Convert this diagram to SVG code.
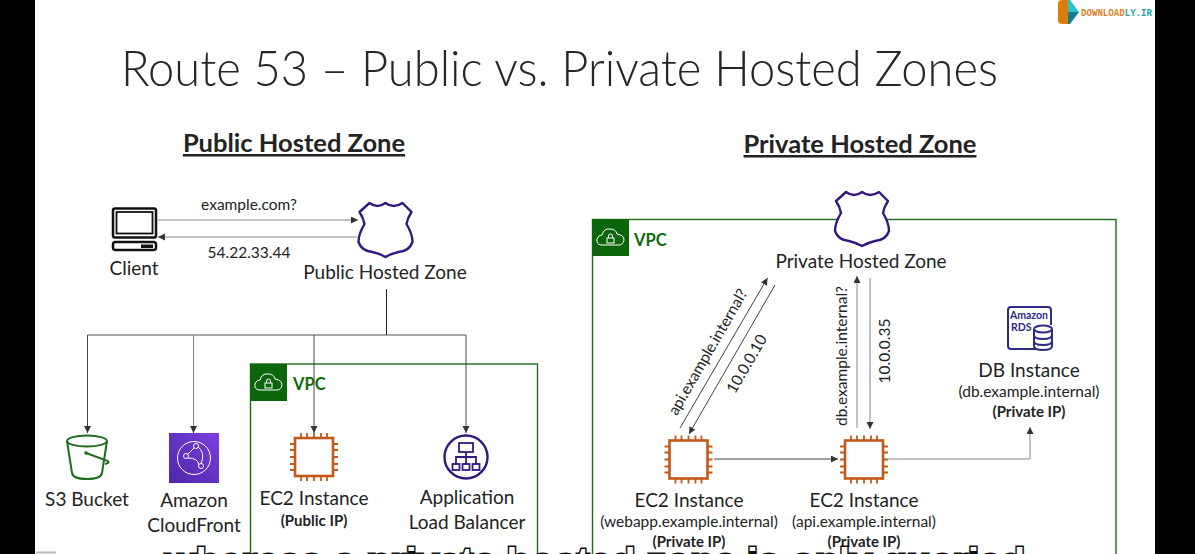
<svg xmlns="http://www.w3.org/2000/svg" width="1195" height="554" viewBox="0 0 1195 554">
<style>
text{font-family:"Lato","Open Sans","Liberation Sans",sans-serif;fill:#232323;text-anchor:middle}
.lb{font-size:19px}
.sm{font-size:15.500px}
.bd{font-size:15px;font-weight:700}
.hd{font-size:25.500px;font-weight:700;text-decoration:underline}
.vpc{font-size:16.500px;font-weight:700;fill:#0b6a0b;text-anchor:start}
.c{fill:none;stroke:#444;stroke-width:1;marker-end:url(#a)}
.cl{fill:none;stroke:#888;stroke-width:1;marker-end:url(#a)}
.box{fill:none;stroke:#1a6e1a;stroke-width:1.400}
.shield{fill:#fff;stroke:#33197f;stroke-width:2.400;stroke-linejoin:round}
.pin{stroke:#c2591a;stroke-width:1.800;fill:none}
</style>
<defs>
<marker id="a" markerUnits="userSpaceOnUse" markerWidth="8" markerHeight="8" refX="7" refY="3.500" orient="auto"><path d="M0,0L7,3.500L0,7z" fill="#333"/></marker>
<linearGradient id="cf" x1="0" y1="1" x2="1" y2="0"><stop offset="0" stop-color="#4d27a8"/><stop offset="1" stop-color="#7a3fe0"/></linearGradient>
<path id="sh" class="shield" d="M-16,1Q-8,7 0,1Q8,7 17,1L26,10Q22,16 21,22Q27,32 27,40Q24,49 13,50Q5,52 0,55Q-5,52 -13,50Q-24,49 -27,40Q-27,32 -21,22Q-22,16 -26,10Z"/>
<g id="chip">
<rect x="-19" y="-19" width="38" height="38" fill="#fff" stroke="#c2591a" stroke-width="2.600"/>
<path class="pin" d="M-13,-24V-19M-7,-24V-19M0,-24V-19M7,-24V-19M13,-24V-19M-13,19V24M-7,19V24M0,19V24M7,19V24M13,19V24M-24,-13H-19M-24,-7H-19M-24,0H-19M-24,7H-19M-24,13H-19M19,-13H24M19,-7H24M19,0H24M19,7H24M19,13H24"/>
</g>
<g id="vpcicon">
<rect x="0" y="0" width="37" height="37" fill="#0b660b"/>
<path d="M9,26Q4,25 5,20Q6,16 10,16Q12,9 18,10Q24,10 25,15Q32,16 32,21Q31,26 27,26Z" fill="none" stroke="#fff" stroke-width="1"/>
<rect x="15" y="19" width="7" height="5" fill="none" stroke="#fff" stroke-width="1"/>
<path d="M16.500,19V17A2,2 0 0 1 20.500,17V19" fill="none" stroke="#fff" stroke-width="1"/>
</g>
</defs>

<rect width="1195" height="554" fill="#fff"/>
<rect x="0" y="0" width="35" height="554" fill="#000"/>
<rect x="1155" y="0" width="40" height="554" fill="#000"/>

<g id="logo">
<path d="M1058,4Q1058,0 1062,0H1068V24H1062Q1058,24 1058,20Z" fill="#dc7d0e"/>
<path d="M1068,0H1070L1079,12H1068Z" fill="#2cc3c9"/>
<path d="M1068,24H1070L1079,12H1068Z" fill="#11808c"/>
<text x="1081" y="16" textLength="71" lengthAdjust="spacingAndGlyphs" style="font-family:'Liberation Mono',monospace;font-size:10px;font-weight:700;fill:#d9822b;text-anchor:start">DOWNLOAD<tspan style="fill:#1fa6ad">LY.IR</tspan></text>
</g>

<text id="title" x="121" y="86" textLength="877" lengthAdjust="spacingAndGlyphs" style="font-size:50px;font-weight:300;text-anchor:start;fill:#262626">Route 53 – Public vs. Private Hosted Zones</text>
<text id="h-public" class="hd" x="294" y="152">Public Hosted Zone</text>
<text id="h-private" class="hd" x="860" y="153">Private Hosted Zone</text>

<g id="vpc-public"><rect class="box" x="250.500" y="364" width="287" height="210"/><use href="#vpcicon" x="250" y="364"/><text class="vpc" x="293" y="390">VPC</text></g>
<g id="vpc-private"><rect class="box" x="592.500" y="219.500" width="523.500" height="360"/><use href="#vpcicon" x="592" y="219"/><text class="vpc" x="634" y="246">VPC</text></g>

<g id="connectors">
<path class="cl" d="M158,220H358"/>
<path class="cl" d="M357,237H158"/>
<path d="M386.500,289V335" fill="none" stroke="#222" stroke-width="1"/>
<path d="M87.500,335H466" fill="none" stroke="#555" stroke-width="1"/>
<path class="c" d="M87.500,335V433"/>
<path class="cl" d="M193.500,335V433"/>
<path class="c" d="M314,335V433"/>
<path class="c" d="M466,335V433"/>
<path class="c" d="M680,428L767.500,278"/>
<path class="c" d="M775,285L689,434"/>
<path class="cl" d="M857,428V276"/>
<path class="cl" d="M870,278V429"/>
<path class="c" d="M714,459H838"/>
<path class="cl" d="M888,459H1030V427"/>
<text class="sm" x="249" y="210">example.com?</text>
<text class="sm" x="249" y="258">54.22.33.44</text>
<text class="sm" transform="translate(708,352) rotate(-60)" y="5">api.example.internal?</text>
<text class="sm" transform="translate(747,364) rotate(-60)" y="5">10.0.0.10</text>
<text class="sm" transform="translate(842,356) rotate(-90)" y="5">db.example.internal?</text>
<text class="sm" transform="translate(885,351) rotate(-90)" y="5">10.0.0.35</text>
</g>

<g id="client">
<rect x="113" y="208.500" width="43" height="29" rx="2" fill="none" stroke="#111" stroke-width="2.500"/>
<rect x="116.500" y="212" width="36" height="21.500" fill="none" stroke="#111" stroke-width="1.800"/>
<rect x="113" y="242" width="43" height="8" rx="2.500" fill="none" stroke="#111" stroke-width="2.500"/>
<rect x="141" y="244.500" width="12" height="3.500" fill="#111"/>
<text class="lb" x="134" y="275">Client</text>
</g>
<g id="public-zone"><use href="#sh" x="385.500" y="202"/><text class="lb" x="385" y="279">Public Hosted Zone</text></g>
<g id="private-zone"><use href="#sh" x="862" y="191"/><text class="lb" x="861" y="268">Private Hosted Zone</text></g>

<g id="s3">
<ellipse cx="87" cy="441" rx="20" ry="5.500" fill="none" stroke="#1f6e1f" stroke-width="2"/>
<path d="M67,441L72,473Q73,479 87,479Q101,479 102,473L107,441" fill="none" stroke="#1f6e1f" stroke-width="2"/>
<path d="M86,453L108,461Q110,463 105,464" fill="none" stroke="#1f6e1f" stroke-width="2"/>
<circle cx="86" cy="453" r="1.800" fill="#1f6e1f"/>
<text class="lb" x="87" y="506">S3 Bucket</text>
</g>
<g id="cloudfront">
<rect x="169" y="433" width="50" height="50" fill="url(#cf)"/>
<circle cx="194" cy="458" r="16.500" fill="none" stroke="#fff" stroke-width="1"/>
<path d="M186,456L195,447M188,458Q198,458 199,465M197,446Q206,452 201,464" fill="none" stroke="#fff" stroke-width="1"/>
<g fill="#5a2fc0" stroke="#fff" stroke-width="1"><circle cx="186" cy="456" r="2.500"/><circle cx="196" cy="446" r="2.500"/><circle cx="201" cy="466" r="2.500"/></g>
<text class="lb" x="194" y="507">Amazon</text>
<text class="lb" x="194" y="532">CloudFront</text>
</g>
<g id="ec2-public"><use href="#chip" x="314" y="457"/><text class="lb" x="314" y="505">EC2 Instance</text><text class="bd" x="314" y="526">(Public IP)</text></g>
<g id="alb">
<circle cx="466" cy="457" r="21.500" fill="#fff" stroke="#33197f" stroke-width="2.400"/>
<g fill="none" stroke="#33197f" stroke-width="1.800">
<rect x="459" y="443" width="14" height="9"/>
<path d="M466,452V457M456,464V457H476V464M466,457V464"/>
<rect x="452.500" y="464" width="7" height="6"/><rect x="462.500" y="464" width="7" height="6"/><rect x="472.500" y="464" width="7" height="6"/>
</g>
<text class="lb" x="467" y="504">Application</text>
<text class="lb" x="467" y="529">Load Balancer</text>
</g>
<g id="ec2-webapp"><use href="#chip" x="688.500" y="459.500"/><text class="lb" x="689" y="507">EC2 Instance</text><text class="sm" x="689" y="527">(webapp.example.internal)</text><text class="bd" x="689" y="547">(Private IP)</text></g>
<g id="ec2-api"><use href="#chip" x="864" y="459.500"/><text class="lb" x="864" y="507">EC2 Instance</text><text class="sm" x="864" y="527">(api.example.internal)</text><text class="bd" x="864" y="547">(Private IP)</text></g>
<g id="rds">
<path d="M1040,349H1011Q1008,349 1008,346V310Q1008,307 1011,307H1048Q1051,307 1051,310V325" fill="none" stroke="#2e2a86" stroke-width="2"/>
<text x="1029" y="319" style="font-size:10.500px;font-weight:700;fill:#2e2a86">Amazon</text>
<text x="1011" y="331" style="font-size:10.500px;font-weight:700;fill:#2e2a86;text-anchor:start">RDS</text>
<g fill="#fff" stroke="#2e2a86" stroke-width="2"><path d="M1034,329V346Q1034,350 1043,350Q1052,350 1052,346V329"/><ellipse cx="1043" cy="329" rx="9" ry="3.500"/><path d="M1034,335Q1034,339 1043,339Q1052,339 1052,335M1034,341Q1034,345 1043,345Q1052,345 1052,341" fill="none"/></g>
<text class="lb" x="1029" y="377">DB Instance</text><text class="sm" x="1029" y="397">(db.example.internal)</text><text class="bd" x="1029" y="417">(Private IP)</text>
</g>

<path d="M36,552.500H56" stroke="#bbb" stroke-width="2"/>
<text id="subtitle" x="165" y="575" textLength="860" lengthAdjust="spacingAndGlyphs" style="font-family:'Liberation Sans',sans-serif;font-size:38px;font-weight:700;text-anchor:start;fill:#fff;stroke:#111;stroke-width:3;paint-order:stroke">whereas a private hosted zone is only queried</text>
</svg>
